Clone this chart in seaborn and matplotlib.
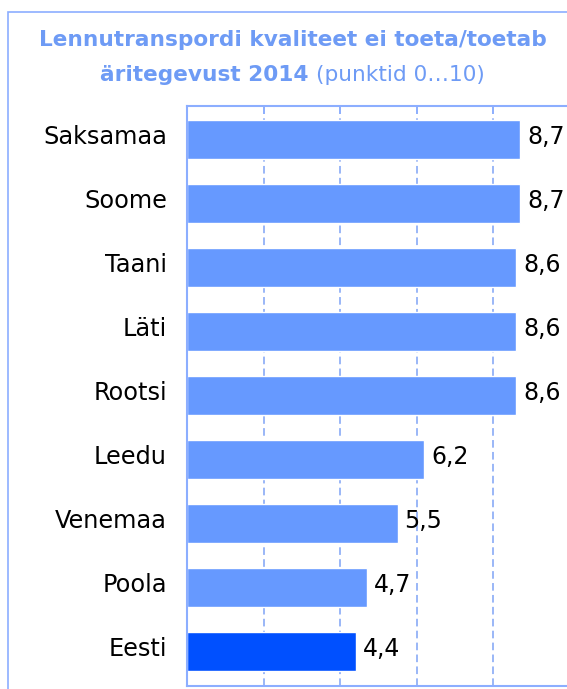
import matplotlib
matplotlib.use("Agg")
import matplotlib.pyplot as plt
import matplotlib.patches as mpatches
import matplotlib.transforms as mtransforms
import seaborn as sns
import pandas as pd

# Data
countries = ["Saksamaa", "Soome", "Taani", "Läti", "Rootsi", "Leedu", "Venemaa", "Poola", "Eesti"]
scores = [8.7, 8.7, 8.6, 8.6, 8.6, 6.2, 5.5, 4.7, 4.4]
value_labels = ["8,7", "8,7", "8,6", "8,6", "8,6", "6,2", "5,5", "4,7", "4,4"]
highlight = "Eesti"

title_bold_1 = "Lennutranspordi kvaliteet ei toeta/toetab"
title_bold_2 = "äritegevust 2014 "
title_normal_2 = "(punktid 0…10)"

BAR = "#6699FF"
BAR_HI = "#0050FF"
TITLE_C = "#6E9BF5"
FRAME = "#8CAEFF"
GRID = "#7FA3F5"

sns.set_theme(style="white")
plt.rcParams["font.family"] = ["DejaVu Sans"]

W, H = 567, 689
fig = plt.figure(figsize=(W / 100, H / 100), dpi=100)

# Outer frame (open on the right and bottom)
fig.patches.append(mpatches.Rectangle((8 / W, -0.05), 1.2, (H - 12) / H + 0.05,
                                      transform=fig.transFigure, fill=False,
                                      edgecolor=FRAME, linewidth=1.2))

ax = fig.add_axes([187 / W, 3 / H, 383 / W, 580 / H])

df = pd.DataFrame({"country": countries, "score": scores})
palette = {c: (BAR_HI if c == highlight else BAR) for c in countries}
sns.barplot(data=df, x="score", y="country", hue="country", palette=palette,
            order=countries, width=0.61, saturation=1, legend=False, ax=ax)

ax.set_xlim(0, 10)
ax.set_ylim(len(countries) - 0.46, -0.52)
ax.set_xlabel("")
ax.set_ylabel("")

for gx in [2, 4, 6, 8]:
    ax.axvline(gx, color=GRID, linestyle=(0, (5, 2.8)), linewidth=1.1, zorder=0)

for s in ["left", "top", "bottom"]:
    ax.spines[s].set_color(FRAME)
    ax.spines[s].set_linewidth(1.5)
ax.spines["right"].set_visible(False)

ax.set_xticks([2, 4, 6, 8])
ax.tick_params(axis="x", which="both", top=True, bottom=False, labeltop=False,
               labelbottom=False, direction="in", length=6, color=FRAME, width=1.1)
ax.tick_params(axis="y", length=0, labelleft=False)

# Category names and values, set on a common baseline slightly below bar centre
BASE = 0.075
trans = mtransforms.blended_transform_factory(ax.transAxes, ax.transData)
for i, name in enumerate(countries):
    ax.text(-20 / 383, i + BASE, name, transform=trans, ha="right", va="baseline",
            fontsize=17.3, color="black", clip_on=False)

for i, (v, lab) in enumerate(zip(scores, value_labels)):
    ax.text(v + 0.18, i + BASE, lab, va="baseline", ha="left", fontsize=17, color="black")

# Title in two lines; the second line mixes bold and regular weights
TS = 15.6
fig.text(293 / W, 1 - 40 / H, title_bold_1, ha="center", va="center",
         fontsize=TS, fontweight="bold", color=TITLE_C)
fig.canvas.draw()
r = fig.canvas.get_renderer()
t_a = fig.text(0, 1 - 75 / H, title_bold_2, ha="left", va="center",
               fontsize=TS, fontweight="bold", color=TITLE_C)
t_b = fig.text(0, 1 - 75 / H, title_normal_2, ha="left", va="center",
               fontsize=TS, color=TITLE_C)
wa = t_a.get_window_extent(r).width
wb = t_b.get_window_extent(r).width
x0 = 292 - (wa + wb) / 2
t_a.set_x(x0 / W)
t_b.set_x((x0 + wa) / W)

fig.savefig("out.png", dpi=100)
